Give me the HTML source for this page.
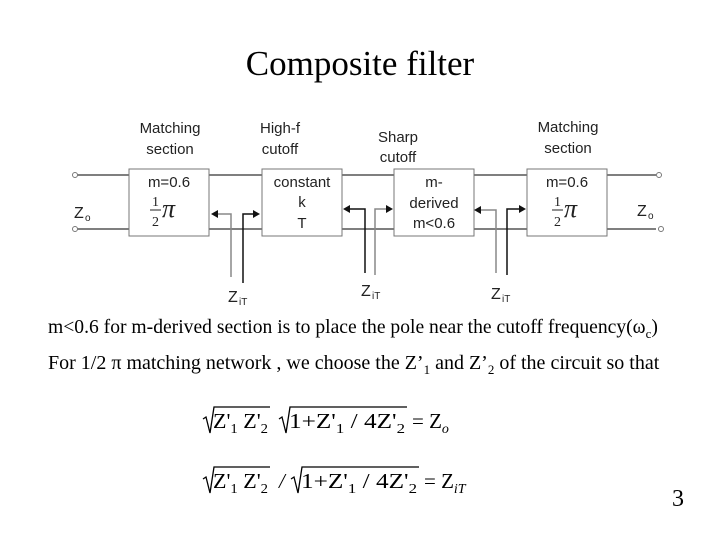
<!DOCTYPE html>
<html><head><style>
body{margin:0;width:720px;height:540px;background:#fff;overflow:hidden;position:relative;font-family:"Liberation Serif",serif;}
.t{position:absolute;white-space:nowrap;}
</style></head><body>
<div class="t" style="left:0;width:720px;text-align:center;top:44px;font-size:35px;">Composite filter</div>
<svg width="720" height="540" style="position:absolute;left:0;top:0" font-family="Liberation Sans, sans-serif">
<g stroke="#555" stroke-width="1.5" fill="none">
<line x1="77" y1="175" x2="656" y2="175"/>
<line x1="77" y1="229" x2="656" y2="229"/>
</g>
<g fill="#fff" stroke="#777" stroke-width="1">
<circle cx="75" cy="175" r="2.5"/><circle cx="75" cy="229" r="2.5"/>
<circle cx="659" cy="175" r="2.5"/><circle cx="661" cy="229" r="2.5"/>
<rect x="129" y="169" width="80" height="67"/>
<rect x="262" y="169" width="80" height="67"/>
<rect x="394" y="169" width="80" height="67"/>
<rect x="527" y="169" width="80" height="67"/>
</g>
<g font-size="15" fill="#222" text-anchor="middle">
<text x="170" y="133">Matching</text><text x="170" y="154">section</text>
<text x="280" y="133">High-f</text><text x="280" y="154">cutoff</text>
<text x="398" y="142">Sharp</text><text x="398" y="162">cutoff</text>
<text x="568" y="132">Matching</text><text x="568" y="153">section</text>
<text x="169" y="187">m=0.6</text>
<text x="302" y="187">constant</text><text x="302" y="207">k</text><text x="302" y="228">T</text>
<text x="434" y="187">m-</text><text x="434" y="208">derived</text><text x="434" y="228">m&lt;0.6</text>
<text x="567" y="187">m=0.6</text>
</g>
<g font-family="Liberation Serif, serif" fill="#222">
<text x="152" y="206" font-size="14">1</text><line x1="150" y1="210" x2="161" y2="210" stroke="#222"/>
<text x="152" y="226" font-size="14">2</text><text x="162" y="217" font-size="26" font-style="italic">π</text>
<text x="554" y="206" font-size="14">1</text><line x1="552" y1="210" x2="563" y2="210" stroke="#222"/>
<text x="554" y="226" font-size="14">2</text><text x="564" y="217" font-size="26" font-style="italic">π</text>
</g>
<g font-size="16" fill="#222">
<text x="74" y="218">Z</text><text x="85" y="221" font-size="10">o</text>
<text x="637" y="216">Z</text><text x="648" y="219" font-size="10">o</text>
<text x="228" y="302">Z</text><text x="239" y="305" font-size="10">iT</text>
<text x="361" y="296">Z</text><text x="372" y="299" font-size="10">iT</text>
<text x="491" y="299">Z</text><text x="502" y="302" font-size="10">iT</text>
</g>
<g stroke-width="1.5" fill="none">
<polyline points="231,277 231,214 216,214" stroke="#888"/>
<polyline points="243,283 243,214 255,214" stroke="#111"/>
<polyline points="365,273 365,209 347,209" stroke="#111"/>
<polyline points="375,275 375,209 388,209" stroke="#888"/>
<polyline points="496,273 496,210 479,210" stroke="#888"/>
<polyline points="507,275 507,209 521,209" stroke="#111"/>
</g>
<g fill="#111">
<polygon points="211,214 218,210 218,218"/>
<polygon points="260,214 253,210 253,218"/>
<polygon points="343,209 350,205 350,213"/>
<polygon points="393,209 386,205 386,213"/>
<polygon points="474,210 481,206 481,214"/>
<polygon points="526,209 519,205 519,213"/>
</g>
<g font-family="Liberation Serif, serif" font-size="21" fill="#000">
<text x="213" y="428" textLength="55" lengthAdjust="spacingAndGlyphs">Z'<tspan font-size="14" dy="5">1</tspan><tspan dy="-5"> Z'</tspan><tspan font-size="14" dy="5">2</tspan></text>
<text x="289" y="428" textLength="116" lengthAdjust="spacingAndGlyphs">1+Z'<tspan font-size="14" dy="5">1</tspan><tspan dy="-5"> / 4Z'</tspan><tspan font-size="14" dy="5">2</tspan></text>
<text x="412" y="428">= Z<tspan font-size="14" dy="5" font-style="italic">o</tspan></text>
<text x="213" y="488" textLength="55" lengthAdjust="spacingAndGlyphs">Z'<tspan font-size="14" dy="5">1</tspan><tspan dy="-5"> Z'</tspan><tspan font-size="14" dy="5">2</tspan></text>
<text x="279" y="488" font-style="italic">/</text>
<text x="301" y="488" textLength="116" lengthAdjust="spacingAndGlyphs">1+Z'<tspan font-size="14" dy="5">1</tspan><tspan dy="-5"> / 4Z'</tspan><tspan font-size="14" dy="5">2</tspan></text>
<text x="424" y="488">= Z<tspan font-size="14" dy="5" font-style="italic">iT</tspan></text>
</g>
<g stroke="#000" stroke-width="1.3" fill="none">
<polyline points="203,419 206,417 210,433 214,407 270,407"/>
<polyline points="279,419 282,417 286,433 290,407 407,407"/>
<polyline points="203,479 206,477 210,493 214,467 270,467"/>
<polyline points="291,479 294,477 298,493 302,467 419,467"/>
</g>
</svg>
<div class="t" style="left:48px;top:317px;font-size:19.6px;">m&lt;0.6 for m-derived section is to place the pole near the cutoff frequency(ω<sub style="font-size:13px">c</sub>)</div>
<div class="t" style="left:48px;top:352px;font-size:20px;">For 1/2 π matching network , we choose the Z’<sub style="font-size:13px">1</sub> and Z’<sub style="font-size:13px">2</sub> of the circuit so that</div>
<div class="t" style="left:672px;top:486px;font-size:24px;">3</div>
</body></html>
